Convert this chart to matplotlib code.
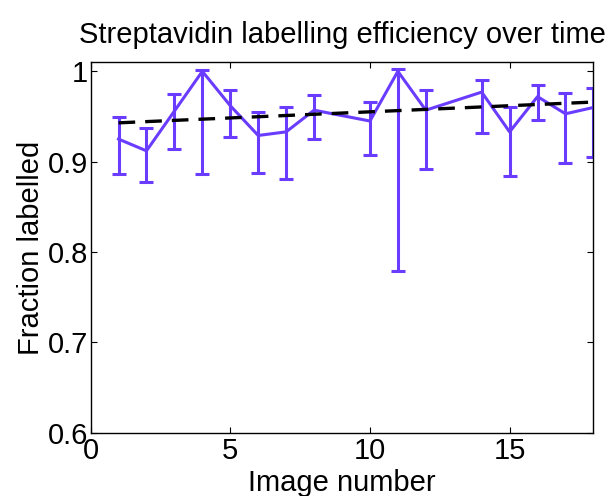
import matplotlib
matplotlib.use("Agg")
import matplotlib.pyplot as plt

image_number = [1, 2, 3, 4, 5, 6, 7, 8, 10, 11, 12, 14, 15, 16, 17, 18]
fraction = [0.925, 0.912, 0.956, 1.000, 0.962, 0.929, 0.933, 0.957, 0.945, 1.000, 0.957, 0.977, 0.933, 0.972, 0.953, 0.960]
err_upper = [0.949, 0.937, 0.975, 1.001, 0.979, 0.955, 0.961, 0.974, 0.966, 1.003, 0.979, 0.990, 0.960, 0.985, 0.976, 0.982]
err_lower = [0.886, 0.878, 0.914, 0.886, 0.927, 0.887, 0.881, 0.925, 0.907, 0.779, 0.892, 0.932, 0.884, 0.946, 0.898, 0.905]
trend_x = [1, 18]
trend_y = [0.943, 0.966]

plt.rcParams['font.family'] = ['Liberation Sans', 'DejaVu Sans']

fig = plt.figure(figsize=(6.08, 4.96), dpi=100)
ax = fig.add_axes([0.149, 0.1276, 0.827, 0.7468])

yerr = [[f - l for f, l in zip(fraction, err_lower)],
        [u - f for f, u in zip(fraction, err_upper)]]
purple = '#6A3CFF'
ax.errorbar(image_number, fraction, yerr=yerr, color=purple, lw=2.2,
            elinewidth=2.2, capsize=5, capthick=2.2, clip_on=True, zorder=2)
ax.plot(trend_x, trend_y, color='black', lw=2.4, ls=(0, (5, 3)), zorder=3)

ax.set_xlim(0, 18)
ax.set_ylim(0.6, 1.01)
ax.set_xticks([0, 5, 10, 15])
ax.set_yticks([0.6, 0.7, 0.8, 0.9, 1.0])
ax.set_yticklabels(['0.6', '0.7', '0.8', '0.9', '1'])
ax.tick_params(direction='in', length=4, width=0.8, top=True, right=True,
               labelsize=21)
ax.tick_params(axis='x', pad=3)
ax.tick_params(axis='y', pad=2)
for s in ax.spines.values():
    s.set_linewidth(1.0)

ax.set_title('Streptavidin labelling efficiency over time', fontsize=21, pad=14)
ax.set_xlabel('Image number', fontsize=21, labelpad=3)
ax.set_ylabel('Fraction labelled', fontsize=21, labelpad=2)

fig.savefig('out.png', dpi=100)
